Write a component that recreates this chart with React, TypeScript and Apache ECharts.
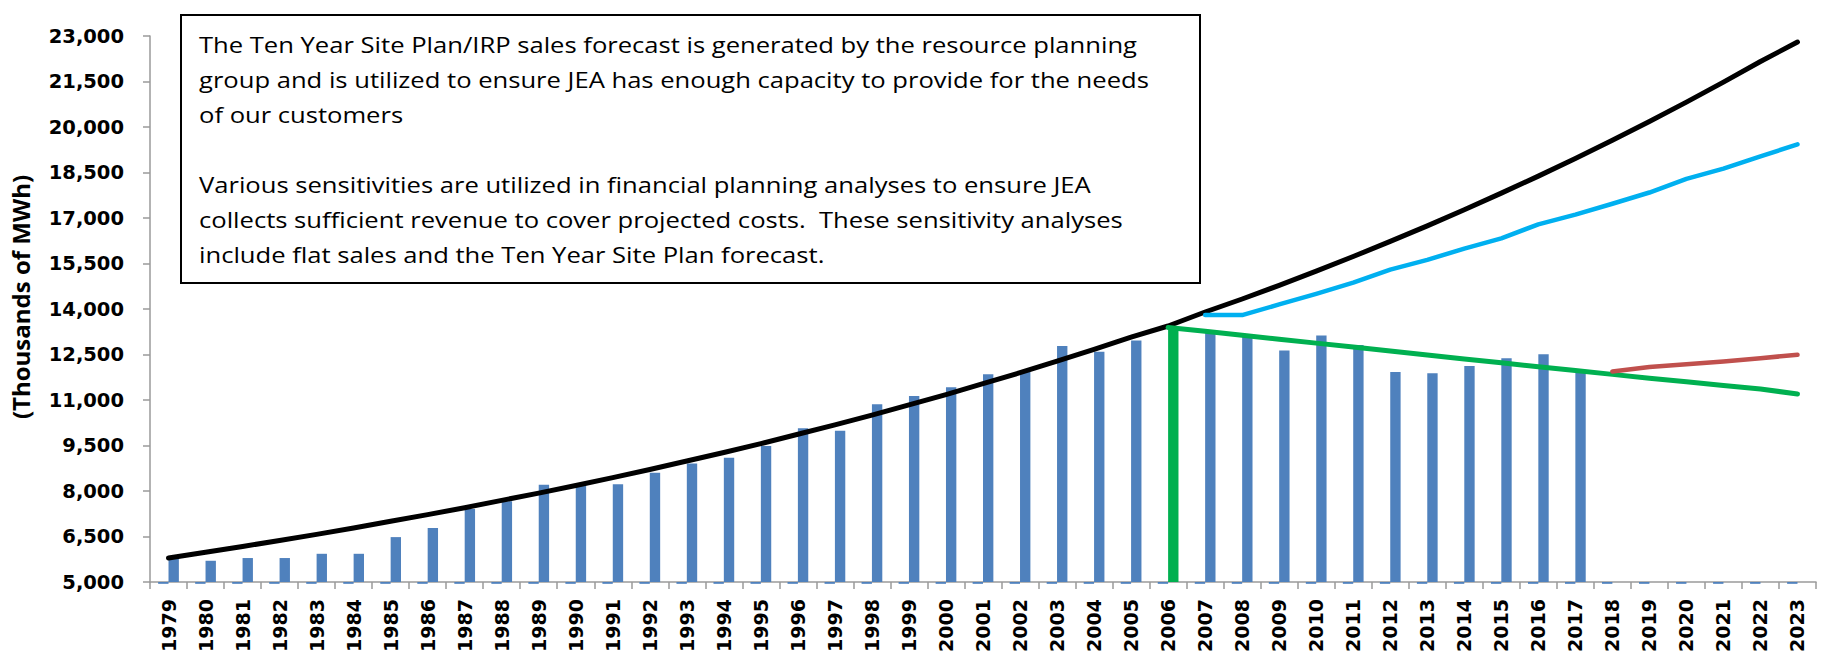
import React, { useEffect, useRef } from "react";
import * as echarts from "echarts";

const years = [
  "1979", "1980", "1981", "1982", "1983", "1984", "1985", "1986", "1987", "1988",
  "1989", "1990", "1991", "1992", "1993", "1994", "1995", "1996", "1997", "1998",
  "1999", "2000", "2001", "2002", "2003", "2004", "2005", "2006", "2007", "2008",
  "2009", "2010", "2011", "2012", "2013", "2014", "2015", "2016", "2017", "2018",
  "2019", "2020", "2021", "2022", "2023",
];

// Actual sales (blue bars), 1979-2017
const actualSales = [
  5800, 5700, 5790, 5790, 5930, 5930, 6480, 6780, 7410, 7660,
  8210, 8190, 8220, 8600, 8905, 9100, 9480, 10070, 9990, 10860,
  11130, 11420, 11850, 11945, 12780, 12590, 12965, 13390, 13210, 13100,
  12630, 13125, 12810, 11920, 11880, 12120, 12380, 12510, 11990,
];
const highlightYear = "2006";

// Near-zero stub series drawn just under the baseline
const stubSeries = [
  -1, -1, -1, -1, -1, -1, -1, -1, -1, -1,
  -1, -1, -1, -1, -1, -1, -1, -1, -1, -1,
  -1, -1, -1, -1, -1, -1, -1, -1, -1, -1,
  -1, -1, -1, -1, -1, -1, -1, -1, -1, -1,
  -1, -1, -1, -1, -1,
];

// Historical trend (black), 1979-2023
const historicalTrend = [
  5790, 5980, 6170, 6370, 6570, 6780, 7000, 7220, 7450, 7690,
  7930, 8180, 8440, 8710, 8990, 9270, 9560, 9870, 10180, 10500,
  10840, 11180, 11540, 11900, 12280, 12670, 13070, 13440, 13900, 14330,
  14780, 15250, 15730, 16230, 16740, 17270, 17820, 18380, 18960, 19560,
  20180, 20820, 21480, 22160, 22800,
];

// Ten Year Site Plan forecast (cyan), 2007-2023
const tenYearStart = "2007";
const tenYearPlan = [
  13800, 13800, 14150, 14500, 14870, 15300, 15620, 15990, 16330, 16790,
  17110, 17470, 17840, 18290, 18630, 19030, 19430,
];

// Declining sensitivity (green), 2006-2023
const declineStart = "2006";
const declineCase = [
  13390, 13265, 13135, 13005, 12875, 12745, 12615, 12485, 12355, 12225,
  12095, 11970, 11845, 11720, 11600, 11480, 11360, 11200,
];

// Flat / budget sensitivity (red), 2018-2023
const budgetStart = "2018";
const budgetCase = [11940, 12090, 12180, 12270, 12380, 12490];

const boxLines = [
  "The Ten Year Site Plan/IRP sales forecast is generated by the resource planning",
  "group and is utilized to ensure JEA has enough capacity to provide for the needs",
  "of our customers",
  "",
  "Various sensitivities are utilized in financial planning analyses to ensure JEA",
  "collects sufficient revenue to cover projected costs.  These sensitivity analyses",
  "include flat sales and the Ten Year Site Plan forecast.",
];

function pad(start: string, vals: number[]) {
  const idx = years.indexOf(start);
  const out: (number | null)[] = years.map(() => null);
  vals.forEach((v, i) => {
    out[idx + i] = v;
  });
  return out;
}

const FONT = "'Open Sans', 'Noto Sans', sans-serif";
const TICK_FONT = "'DejaVu Sans', 'Open Sans', sans-serif";

export default function App() {
  const ref = useRef<HTMLDivElement>(null);
  useEffect(() => {
    if (!ref.current) return;
    const chart = echarts.init(ref.current, null, { renderer: "svg" });
    const barData = years.map((y, i) => {
      const v = i < actualSales.length ? actualSales[i] : null;
      if (y === highlightYear) return { value: v, itemStyle: { color: "#00B050" } };
      return v;
    });
    chart.setOption({
      animation: false,
      backgroundColor: "#ffffff",
      grid: { left: 143, right: 9, top: 36, bottom: 75 },
      xAxis: {
        type: "category",
        data: years,
        boundaryGap: true,
        axisLine: { lineStyle: { color: "#9a9a9a", width: 1.5 } },
        axisTick: { show: true, length: 7, interval: 0, lineStyle: { color: "#9a9a9a", width: 1.5 } },
        axisLabel: {
          interval: 0,
          rotate: 90,
          margin: 17,
          color: "#000",
          fontWeight: "bold",
          fontSize: 19,
          fontFamily: TICK_FONT,
        },
      },
      yAxis: [
        {
          type: "value",
          min: 5000,
          max: 23000,
          interval: 1500,
          name: "(Thousands of MWh)",
          nameLocation: "middle",
          nameRotate: 90,
          nameGap: 118,
          nameTextStyle: {
            color: "#000",
            fontWeight: "bold",
            fontSize: 24,
            fontFamily: FONT,
            padding: [0, 0, 0, 24],
          },
          splitLine: { show: false },
          axisLine: { show: true, lineStyle: { color: "#9a9a9a", width: 1.5 } },
          axisTick: { show: true, length: 7, lineStyle: { color: "#9a9a9a", width: 1.5 } },
          axisLabel: {
            margin: 26,
            color: "#000",
            fontWeight: "bold",
            fontSize: 19.5,
            fontFamily: TICK_FONT,
            formatter: (v: number) => v.toLocaleString("en-US"),
          },
        },
        {
          type: "value",
          min: 0,
          max: 300,
          show: false,
          splitLine: { show: false },
        },
      ],
      graphic: [
        {
          type: "rect",
          left: 180,
          top: 14,
          shape: { width: 1019, height: 268 },
          style: { fill: "#ffffff", stroke: "#000000", lineWidth: 2 },
          z: 100,
        },
        {
          type: "text",
          x: 199,
          y: 27,
          scaleX: 1.19,
          scaleY: 1,
          style: {
            text: boxLines.join("\n"),
            fontSize: 21.5,
            lineHeight: 35,
            fontFamily: FONT,
            fill: "#000",
            align: "left",
            verticalAlign: "top",
          },
          z: 101,
        },
      ],
      series: [
        {
          name: "stub",
          type: "bar",
          yAxisIndex: 1,
          data: stubSeries,
          barWidth: "28%",
          barGap: "0%",
          clip: false,
          itemStyle: { color: "#4F81BD" },
        },
        {
          name: "Actual",
          type: "bar",
          data: barData,
          barWidth: "28%",
          barGap: "0%",
          itemStyle: { color: "#4F81BD" },
        },
        {
          name: "Trend",
          type: "line",
          data: historicalTrend,
          showSymbol: false,
          symbol: "none",
          lineStyle: { color: "#000000", width: 5, cap: "round", join: "round" },
          z: 3,
        },
        {
          name: "Ten Year Site Plan",
          type: "line",
          data: pad(tenYearStart, tenYearPlan),
          showSymbol: false,
          symbol: "none",
          lineStyle: { color: "#00B0F0", width: 4.5, cap: "round", join: "round" },
          z: 4,
        },
        {
          name: "Decline",
          type: "line",
          data: pad(declineStart, declineCase),
          showSymbol: false,
          symbol: "none",
          lineStyle: { color: "#00B050", width: 5, cap: "round", join: "round" },
          z: 5,
        },
        {
          name: "Budget",
          type: "line",
          data: pad(budgetStart, budgetCase),
          showSymbol: false,
          symbol: "none",
          lineStyle: { color: "#C0504D", width: 4.5, cap: "round", join: "round" },
          z: 5,
        },
      ],
    });
    return () => chart.dispose();
  }, []);
  return (
    <div
      ref={ref}
      style={{ position: "fixed", left: 0, top: 0, width: 1825, height: 657, background: "#fff" }}
    />
  );
}
